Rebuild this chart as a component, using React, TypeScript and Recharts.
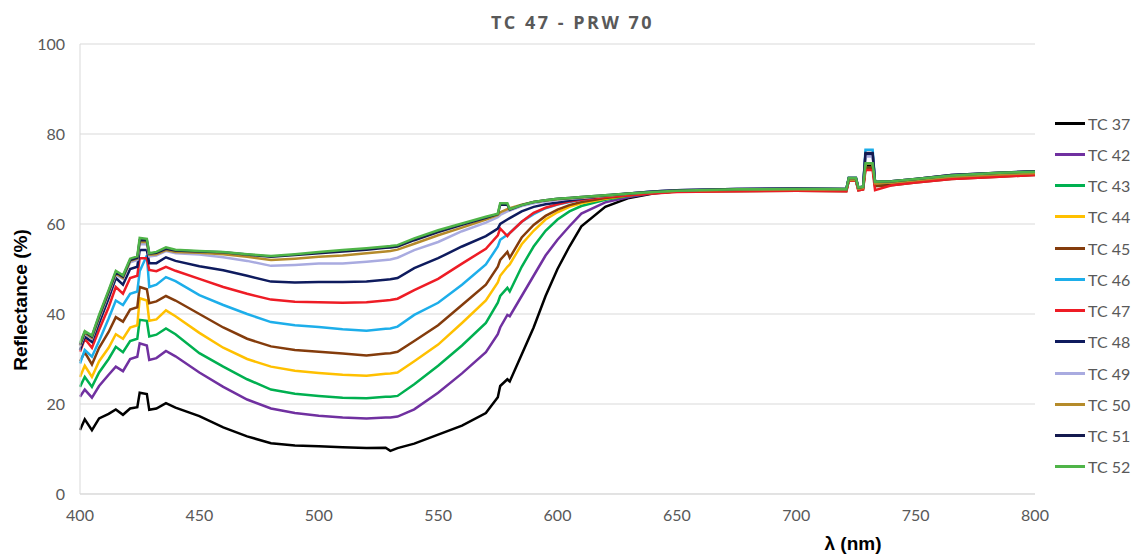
import { CartesianGrid, Line, LineChart, XAxis, YAxis } from "recharts"

// wavelength samples (nm)
const wavelengths = [
  400, 402, 405, 408, 412, 415, 418, 421, 424, 425,
  428, 429, 432, 436, 440, 450, 460, 470, 480, 490,
  500, 510, 520, 528, 530, 533, 540, 550, 560, 570,
  575, 576, 579, 580, 585, 590, 595, 600, 605, 610,
  620, 630, 640, 650, 675, 700, 721, 722, 725, 726,
  728, 729, 732, 733, 740, 750, 765, 785, 800,
]

// reflectance (%) for each sample
const tc37 = [
  14.2, 16.6, 14.2, 16.8, 17.8, 18.8, 17.6, 19, 19.3, 22.5,
  22.2, 18.7, 19, 20.2, 19.2, 17.3, 14.8, 12.8, 11.3, 10.8,
  10.6, 10.4, 10.2, 10.3, 9.6, 10.2, 11.2, 13.2, 15.2, 18,
  21.5, 24, 25.5, 25, 31, 37, 44, 50, 55, 59.5,
  63.8, 65.8, 66.8, 67.3, 67.6, 67.7, 67.6, 69.8, 69.8, 67.8,
  68, 73, 73, 68.8, 69, 69.6, 70.4, 70.9, 71.2,
]
const tc42 = [
  21.6, 23.2, 21.4, 24, 26.5, 28.3, 27.3, 30, 30.5, 33.5,
  33, 29.8, 30.2, 31.8, 30.6, 27, 23.8, 21, 19, 18,
  17.4, 17, 16.8, 17, 17, 17.2, 18.8, 22.5, 26.8, 31.5,
  35.5, 37, 39.8, 39.5, 44, 48.5, 53, 56.5, 59.5, 62.3,
  64.8, 66, 66.9, 67.3, 67.6, 67.7, 67.6, 69.8, 69.8, 67.8,
  68, 73.5, 73.5, 69, 69.1, 69.6, 70.5, 71, 71.3,
]
const tc43 = [
  23.8, 26, 23.8, 27, 30, 32.7, 31.5, 34, 34.5, 38.7,
  38.5, 35, 35.4, 36.8, 35.5, 31.3, 28.3, 25.5, 23.2, 22.3,
  21.8, 21.4, 21.3, 21.6, 21.6, 21.8, 24.4, 28.5, 33, 38,
  42.5, 44, 45.8, 45, 50.5, 55, 58.5, 61, 62.8, 64,
  65.4, 66.3, 67, 67.4, 67.7, 67.8, 67.7, 70, 70, 67.9,
  68.1, 73.5, 73.5, 69.2, 69.3, 69.8, 70.7, 71.2, 71.5,
]
const tc44 = [
  26, 28.5, 26, 29.5, 32.5, 35.5, 34.5, 37, 37.5, 43.5,
  43, 38.5, 38.8, 40.8, 39.5, 35.8, 32.5, 30, 28.3, 27.4,
  26.9, 26.5, 26.3, 26.7, 26.8, 27, 29.5, 33.2, 38, 43,
  47, 48.5, 50.5, 51, 55.5, 58.5, 61, 62.6, 63.8, 64.6,
  65.6, 66.4, 67, 67.4, 67.6, 67.7, 67.6, 69.9, 69.9, 67.8,
  68, 73.5, 73.5, 69, 69.2, 69.7, 70.6, 71.1, 71.4,
]
const tc45 = [
  29.5, 31.5, 28.8, 32.5, 36, 39.3, 38.3, 41, 41.5, 46,
  45.5, 42.4, 42.8, 44, 43, 40, 37, 34.5, 32.8, 32,
  31.6, 31.2, 30.8, 31.2, 31.3, 31.6, 34, 37.5, 42, 46.5,
  50.5, 52, 53.8, 52.5, 57, 59.8, 61.8, 63.2, 64.2, 64.9,
  65.8, 66.4, 66.9, 67.2, 67.3, 67.4, 67.3, 69.6, 69.6, 67.5,
  67.7, 72.5, 72.5, 68.4, 68.6, 69.2, 70, 70.5, 70.9,
]
const tc46 = [
  29, 32, 30.5, 34, 39, 43, 42, 44.5, 45, 49.5,
  53, 46, 46.5, 48.2, 47.3, 44.2, 42, 40, 38.2, 37.5,
  37.1, 36.6, 36.3, 36.7, 36.8, 37.2, 39.8, 42.5, 46.5, 51,
  55, 56.5, 57.6, 58, 60.5, 62.2, 63.5, 64.3, 64.9, 65.4,
  66.2, 66.7, 67.1, 67.4, 67.7, 67.8, 67.7, 70.2, 70.2, 68,
  68.2, 76.5, 76.5, 69.3, 69.4, 69.9, 70.8, 71.3, 71.6,
]
const tc47 = [
  31.6, 34.5, 32.5, 36.5, 41.5, 46, 44.5, 48, 48.5, 52.4,
  52.4, 49.8, 49.5, 50.5, 49.6, 47.8, 46, 44.5, 43.2, 42.7,
  42.6, 42.5, 42.6, 43, 43.1, 43.4, 45.3, 47.8, 51.2, 54.5,
  57.5, 59, 57.3, 58, 60.5, 62.5, 63.6, 64.4, 65, 65.4,
  66, 66.4, 66.8, 67.1, 67.3, 67.4, 67.3, 69.6, 69.6, 67.5,
  67.7, 72, 72, 67.5, 68.6, 69.2, 70, 70.5, 70.9,
]
const tc48 = [
  32, 35, 33.8, 38, 43.5, 48, 46.5, 50, 50.5, 54.2,
  54.2, 51.3, 51.3, 52.6, 51.8, 50.6, 49.7, 48.5, 47.2, 47,
  47.1, 47.1, 47.2, 47.6, 47.7, 48, 50.2, 52.4, 55, 57.3,
  59, 60, 61, 61.3, 62.8, 63.8, 64.4, 64.8, 65.2, 65.6,
  66.3, 66.8, 67.2, 67.5, 67.8, 67.9, 67.8, 70.2, 70.2, 68.1,
  68.3, 75.5, 75.5, 69.3, 69.5, 70, 70.9, 71.4, 71.7,
]
const tc49 = [
  32.8, 35.6, 34.5, 39, 44.5, 48.8, 47.8, 51.5, 52, 55.5,
  55.5, 52.8, 53, 54, 53.5, 53.2, 52.6, 51.8, 50.7, 50.9,
  51.2, 51.2, 51.6, 52, 52.1, 52.5, 54.2, 56, 58.4, 60.3,
  61.5, 62, 62.8, 63, 64, 64.6, 65, 65.3, 65.6, 65.8,
  66.3, 66.8, 67.2, 67.5, 67.8, 67.9, 67.8, 70.1, 70.1, 68,
  68.2, 75, 75, 69.2, 69.4, 69.9, 70.8, 71.3, 71.6,
]
const tc50 = [
  33, 35.8, 34.7, 39.2, 44.8, 49, 48, 51.8, 52.3, 56,
  56, 53.2, 53.3, 54.2, 53.8, 53.6, 53.3, 52.7, 52, 52.3,
  52.7, 53, 53.5, 53.9, 54, 54.3, 55.6, 57.5, 59.2, 61,
  62, 62.6, 63.3, 63.5, 64.3, 64.9, 65.2, 65.5, 65.7, 65.9,
  66.3, 66.7, 67.1, 67.4, 67.6, 67.7, 67.6, 69.8, 69.8, 67.8,
  68, 73.5, 73.5, 69, 69.2, 69.7, 70.5, 71, 71.3,
]
const tc51 = [
  33.2, 36, 35, 39.5, 45, 49.3, 48.3, 52, 52.5, 56.4,
  56.4, 53.4, 53.6, 54.5, 54.1, 53.9, 53.7, 53.2, 52.7, 53.1,
  53.5, 53.9, 54.3, 54.7, 54.8, 55, 56.4, 58.2, 59.8, 61.4,
  62.2, 64.3, 64.3, 63.2, 64.2, 64.9, 65.3, 65.6, 65.8, 66,
  66.4, 66.8, 67.2, 67.5, 67.8, 67.9, 67.8, 70.2, 70.2, 68.1,
  68.3, 75.8, 75.8, 69.4, 69.5, 70, 70.9, 71.4, 71.7,
]
const tc52 = [
  33.5, 36.2, 35.2, 39.8, 45.3, 49.6, 48.6, 52.3, 52.8, 56.9,
  56.7, 53.5, 53.8, 54.8, 54.3, 54, 53.8, 53.3, 52.9, 53.3,
  53.8, 54.2, 54.6, 55, 55.1, 55.3, 56.8, 58.6, 60.1, 61.6,
  62.3, 64.6, 64.6, 63.3, 64.2, 64.9, 65.3, 65.6, 65.8, 66,
  66.4, 66.8, 67.1, 67.4, 67.7, 67.8, 67.8, 70.2, 70.2, 68.1,
  68.3, 73.5, 73.5, 69.4, 69.5, 70, 70.8, 71.4, 71.6,
]

const seriesNames = ["TC 37", "TC 42", "TC 43", "TC 44", "TC 45", "TC 46", "TC 47", "TC 48", "TC 49", "TC 50", "TC 51", "TC 52"]
const seriesValues = [tc37, tc42, tc43, tc44, tc45, tc46, tc47, tc48, tc49, tc50, tc51, tc52]
const seriesColors = ["#000000", "#7030A0", "#00B050", "#FFC000", "#843C0C", "#1DAEEA", "#EE1C25", "#0E1B5E", "#A9ABE0", "#B58B2A", "#141A4F", "#4FB448"]

const xTicks = [400, 450, 500, 550, 600, 650, 700, 750, 800]
const yTicks = [0, 20, 40, 60, 80, 100]

const rows = wavelengths.map((wl, i) => {
  const row: any = { wl }
  seriesNames.forEach((name, k) => {
    row[name] = seriesValues[k][i]
  })
  return row
})

const tickStyle = { fill: "#595959", fontSize: 16, fontFamily: "Lato" }

export default function App() {
  return (
    <div style={{ position: "absolute", left: 0, top: 0, width: 1137, height: 559, background: "#fff" }}>
      <div
        style={{
          position: "absolute", left: 0, top: 10, width: 1145, textAlign: "center",
          fontFamily: "Open Sans", fontWeight: 700, fontSize: 18, letterSpacing: 2.5, color: "#595959",
        }}
      >
        TC 47 - PRW 70
      </div>
      <LineChart width={1137} height={559} data={rows} margin={{ top: 44, right: 102, left: 0, bottom: 35 }}>
        <CartesianGrid horizontal vertical={false} stroke="#d9d9d9" />
        <XAxis
          dataKey="wl"
          type="number"
          domain={[400, 800]}
          ticks={xTicks}
          height={30}
          tickLine={false}
          tickMargin={10}
          axisLine={{ stroke: "#d9d9d9" }}
          tick={tickStyle}
        />
        <YAxis
          type="number"
          domain={[0, 100]}
          ticks={yTicks}
          width={80}
          tickLine={false}
          tickMargin={9}
          axisLine={{ stroke: "#d9d9d9" }}
          tick={tickStyle}
        />
        {seriesNames.map((name, k) => (
          <Line
            key={name}
            type="linear"
            dataKey={name}
            stroke={seriesColors[k]}
            strokeWidth={2.5}
            dot={false}
            isAnimationActive={false}
          />
        ))}
      </LineChart>
      <div
        style={{
          position: "absolute", left: 21, top: 300, transform: "translate(-50%, -50%) rotate(-90deg)",
          whiteSpace: "nowrap", fontFamily: "Liberation Sans", fontWeight: 700, fontSize: 19, color: "#000",
        }}
      >
        Reflectance (%)
      </div>
      <div
        style={{
          position: "absolute", left: 853, top: 544, transform: "translate(-50%, -50%)",
          whiteSpace: "nowrap", fontFamily: "Liberation Sans", fontWeight: 700, fontSize: 19, color: "#000",
        }}
      >
        λ (nm)
      </div>
      {seriesNames.map((name, k) => (
        <div
          key={name}
          style={{
            position: "absolute", left: 1055, top: 123 + k * 31.27 - 10, height: 20,
            display: "flex", alignItems: "center",
            fontFamily: "Lato", fontSize: 16, color: "#595959", whiteSpace: "nowrap",
          }}
        >
          <div style={{ width: 30, height: 3, background: seriesColors[k], marginRight: 3 }} />
          {name}
        </div>
      ))}
    </div>
  )
}
